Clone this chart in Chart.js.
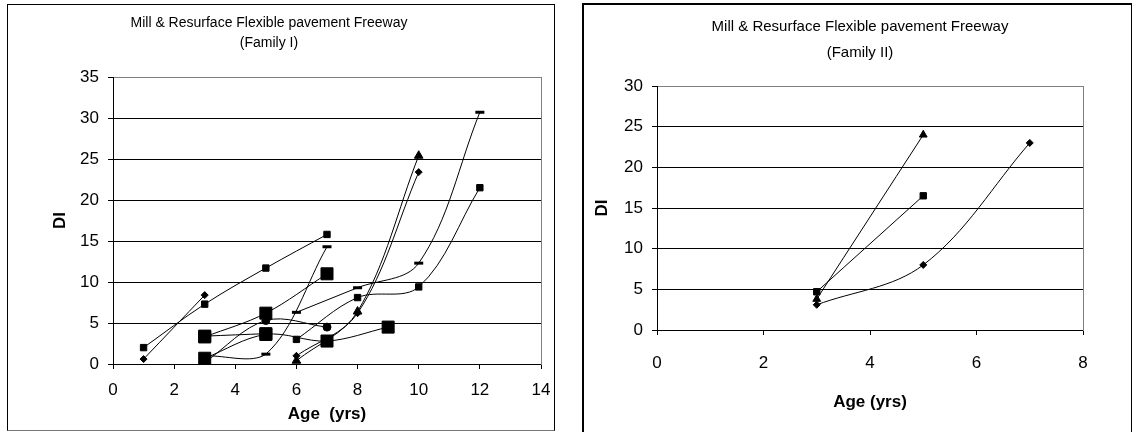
<!DOCTYPE html>
<html>
<head>
<meta charset="utf-8">
<script src="https://cdn.jsdelivr.net/npm/chart.js@4.4.1/dist/chart.umd.min.js"></script>
<style>
html, body { margin: 0; padding: 0; background: #fff; overflow: hidden; width: 1135px; height: 432px; position: relative; }
.panel { position: absolute; box-sizing: border-box; }
#p1 { left: 7px; top: 4px; width: 548px; height: 427px; border: 1px solid #000; border-bottom-color: #777; }
#p2 { left: 582px; top: 3px; width: 550px; height: 440px; border: 2px solid #000; border-right-width: 1px; }
canvas { position: absolute; top: 0; }
#c1 { left: -27px; }
#c2 { left: 583px; }
</style>
</head>
<body>
<div class="panel" id="p1"></div>
<div class="panel" id="p2"></div>
<canvas id="c1" width="592" height="432"></canvas>
<canvas id="c2" width="554" height="432"></canvas>
<script>
// Family I : [age (yrs), DI]
var famI_diamondA = [[1, 0.6], [3, 8.4]];
var famI_squareA  = [[1, 2.0], [3, 7.3], [5, 11.7], [7, 15.8]];
var famI_diamondB = [[6, 1.0], [8, 6.2], [10, 23.4]];
var famI_triangle = [[6, 0.4], [8, 6.4], [10, 25.4]];
var famI_squareB  = [[6, 3.0], [8, 8.1], [10, 9.4], [12, 21.5]];
var famI_dashA    = [[6, 6.3], [8, 9.3], [10, 12.3], [12, 30.7]];
var famI_dashB    = [[3, 1.0], [5, 1.2], [7, 14.3]];
var famI_circle   = [[3, 0.2], [5, 5.3], [7, 4.5]];
var famI_bigSqA   = [[3, 3.3], [5, 6.2], [7, 11.0]];
var famI_bigSqB   = [[3, 3.4], [5, 3.7]];
var famI_bigSqC   = [[3, 0.7], [5, 3.6], [7, 2.8], [9, 4.5]];

// Family II
var famII_triangle = [[3, 3.8], [5, 24.0]];
var famII_square   = [[3, 4.7], [5, 16.5]];
var famII_diamond  = [[3, 3.1], [5, 8.0], [7, 23.0]];

// axis ranges [min, max, step]
var xAxisI  = [0, 14, 2];
var yAxisI  = [0, 35, 5];
var xAxisII = [0, 8, 2];
var yAxisII = [0, 30, 5];

var FONT = "'Liberation Sans', Arial, sans-serif";

function series(points, style, r, bw) {
  return {
    data: points.map(function (p) { return { x: p[0], y: p[1] }; }),
    showLine: true,
    tension: 0.35,
    borderColor: '#000',
    borderWidth: 1,
    pointStyle: style,
    pointRadius: r,
    pointBackgroundColor: '#000',
    pointBorderColor: '#000',
    pointBorderWidth: bw || 1
  };
}

function makeChart(id, datasets, xr, yr, o) {
  new Chart(document.getElementById(id), {
    type: 'scatter',
    data: { datasets: datasets },
    options: {
      responsive: false,
      animation: false,
      events: [],
      layout: { padding: 0 },
      plugins: {
        legend: { display: false },
        tooltip: { enabled: false },
        title: {
          display: true,
          text: o.title,
          color: '#000',
          font: { family: FONT, size: o.titleSize, weight: 'normal', lineHeight: o.titleLH / o.titleSize },
          padding: { top: o.titleTop, bottom: o.titleBottom }
        }
      },
      scales: {
        x: {
          type: 'linear',
          min: xr[0], max: xr[1],
          ticks: { stepSize: xr[2], color: '#000', padding: o.xPad, font: { family: FONT, size: 17 } },
          grid: { drawOnChartArea: false, drawTicks: true, tickLength: 5, color: '#000', tickColor: '#000' },
          border: { color: '#000', width: 1 },
          title: {
            display: true, text: o.xTitle, color: '#000',
            font: { family: FONT, size: 17, weight: 'bold' },
            padding: { top: 0, bottom: o.xTitlePad }
          },
          afterFit: function (s) { s.height = o.xH; }
        },
        y: {
          type: 'linear',
          min: yr[0], max: yr[1],
          ticks: { stepSize: yr[2], color: '#000', padding: 9, font: { family: FONT, size: 17 } },
          grid: {
            tickLength: 5,
            tickColor: '#000',
            color: function (c) { return c.tick && c.tick.value === yr[1] ? '#808080' : '#000'; }
          },
          border: { color: '#000', width: 1 },
          title: {
            display: true, text: 'DI', color: '#000',
            font: { family: FONT, size: 17, weight: 'bold' },
            padding: { top: o.yTitlePad, bottom: 0 }
          },
          afterFit: function (s) { s.width = o.yW; }
        },
        y2: {
          type: 'linear',
          position: 'right',
          min: yr[0], max: yr[1],
          ticks: { display: false },
          grid: { display: false },
          border: { color: '#808080', width: 1 },
          afterFit: function (s) { s.width = o.y2W; }
        }
      }
    }
  });
}

makeChart('c1', [
  series(famI_diamondA, 'rectRot', 3.5),
  series(famI_squareA, 'rect', 4.5),
  series(famI_diamondB, 'rectRot', 3.5),
  series(famI_triangle, 'triangle', 5),
  series(famI_squareB, 'rect', 4.5),
  series(famI_dashA, 'line', 4.5, 3),
  series(famI_dashB, 'line', 4.5, 3),
  series(famI_circle, 'circle', 4),
  series(famI_bigSqA, 'rect', 8.5),
  series(famI_bigSqB, 'rect', 8.5),
  series(famI_bigSqC, 'rect', 8.5)
], xAxisI, yAxisI, {
  title: ['Mill & Resurface Flexible pavement Freeway', '(Family I)'],
  titleSize: 14, titleLH: 20, titleTop: 13, titleBottom: 24,
  xTitle: 'Age  (yrs)', xPad: 11, xTitlePad: 7, xH: 68,
  yTitlePad: 77, yW: 140, y2W: 24
});

makeChart('c2', [
  series(famII_triangle, 'triangle', 4.5),
  series(famII_square, 'rect', 4.5),
  series(famII_diamond, 'rectRot', 3.5)
], xAxisII, yAxisII, {
  title: ['Mill & Resurface Flexible pavement Freeway', '(Family II)'],
  titleSize: 15, titleLH: 26, titleTop: 14, titleBottom: 20,
  xTitle: 'Age (yrs)', xPad: 18, xTitlePad: 19, xH: 102,
  yTitlePad: 9, yW: 74, y2W: 54
});
</script>
</body>
</html>
